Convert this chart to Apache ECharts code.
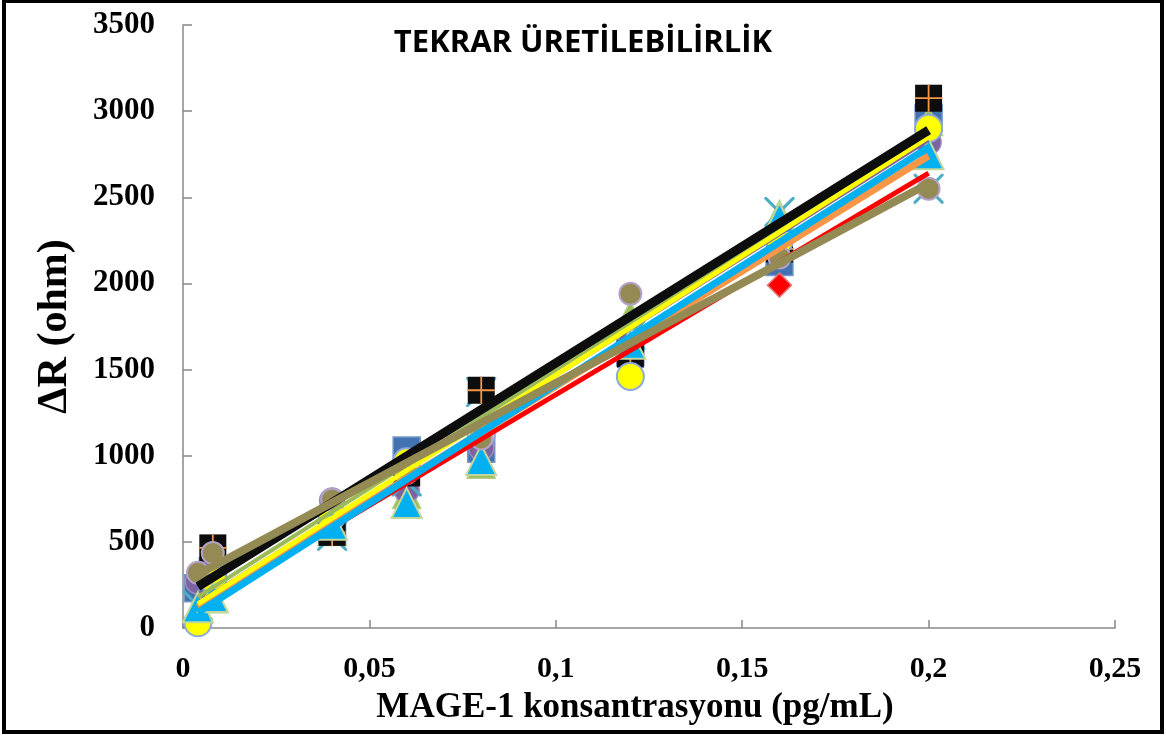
<!DOCTYPE html>
<html>
<head>
<meta charset="utf-8">
<script src="https://cdn.jsdelivr.net/npm/echarts@6/dist/echarts.min.js"></script>
<style>
html,body{margin:0;padding:0;background:#fff;}
#chart{width:1166px;height:737px;}
</style>
</head>
<body>
<div id="chart"></div>
<script>
// ---- data ----
const concentrations = [0.004, 0.008, 0.04, 0.06, 0.08, 0.12, 0.16, 0.2];
const seriesBlueSquare   = [230, 330, 560, 1030, 1040, 1600, 2125, 2960];
const seriesRedDiamond   = [70, 200, 600, 800, 1030, 1560, 1990, 2830];
const seriesGreenTri     = [110, 170, 560, 775, 950, 1815, 2400, 2940];
const seriesPurpleCircle = [270, 400, 740, 800, 1045, 1650, 2250, 2820];
const seriesCyanX        = [130, 300, 535, 850, 1370, 1700, 2415, 2550];
const seriesBlackPlus    = [null, 465, 555, 900, 1380, 1590, 2200, 3075];
const seriesYellowCircle = [30, 280, 650, 965, 1120, 1460, 2250, 2900];
const seriesCyanTri      = [120, 180, 600, 725, 975, 1650, 2380, 2750];
const seriesOliveCircle  = [320, 435, 745, 900, 1100, 1940, 2150, 2550];

// linear trendlines: value at first and last concentration
const trendX      = [0.004, 0.2];
const trendRed    = [120, 2640];
const trendOrange = [120, 2740];
const trendPurple = [150, 2830];
const trendGreen  = [180, 2870];
const trendYellow = [140, 2850];
const trendCyan   = [90, 2790];
const trendBlack  = [240, 2890];
const trendOlive  = [310, 2580];

const xTicks = [0, 0.05, 0.1, 0.15, 0.2, 0.25];
const yTicks = [0, 500, 1000, 1500, 2000, 2500, 3000, 3500];

const titleText = 'TEKRAR ÜRETİLEBİLİRLİK';
const xName = 'MAGE-1 konsantrasyonu (pg/mL)';
const yName = 'ΔR (ohm)';

// ---- build ----
const pts = vals => concentrations.map((x, i) => [x, vals[i] == null ? '-' : vals[i]]);
const trend = vals => trendX.map((x, i) => [x, vals[i]]);

const X_PATH = 'path://M0,0 L2.2,0 L15,12.8 L27.8,0 L30,0 L30,2.2 L17.2,15 L30,27.8 L30,30 L27.8,30 L15,17.2 L2.2,30 L0,30 L0,27.8 L12.8,15 L0,2.2 Z';
const PLUS_PATH = 'path://M14,0 L16,0 L16,14 L30,14 L30,16 L16,16 L16,30 L14,30 L14,16 L0,16 L0,14 L14,14 Z';

function scatter(name, data, symbol, size, fill, border, bw, z) {
  return {
    type: 'scatter', name, data: pts(data), symbol, symbolSize: size, z,
    itemStyle: { color: fill, borderColor: border, borderWidth: bw, opacity: 1 },
    emphasis: { disabled: true }, silent: true
  };
}
function tline(data, color, width, z) {
  return {
    type: 'line', data: trend(data), symbol: 'none', z,
    lineStyle: { color, width, cap: 'butt' }, silent: true
  };
}

const fmtX = v => String(+(+v).toFixed(3)).replace('.', ',');
const fmtY = v => String(Math.round(v));

const option = {
  animation: false,
  backgroundColor: '#ffffff',
  title: {
    text: titleText, left: 'center', top: 23,
    textStyle: { fontFamily: 'Open Sans', fontWeight: 'bold', fontSize: 31, color: '#000' }
  },
  grid: { left: 183, right: 51, top: 25, bottom: 109, containLabel: false },
  xAxis: {
    type: 'value', min: xTicks[0], max: xTicks[xTicks.length - 1], interval: xTicks[1] - xTicks[0],
    name: xName, nameLocation: 'middle', nameGap: 62,
    nameTextStyle: { fontFamily: 'Liberation Serif', fontWeight: 'bold', fontSize: 35, color: '#000', padding: [0, 28, 0, 0] },
    axisLine: { show: true, onZero: false, lineStyle: { color: '#888', width: 1.5 } },
    axisTick: { show: true, inside: true, length: 8, lineStyle: { color: '#888', width: 1.5 } },
    axisLabel: { formatter: fmtX, margin: 26, fontFamily: 'Liberation Serif', fontWeight: 'bold', fontSize: 30, color: '#000' },
    splitLine: { show: false }
  },
  yAxis: {
    type: 'value', min: yTicks[0], max: yTicks[yTicks.length - 1], interval: yTicks[1] - yTicks[0],
    name: yName, nameLocation: 'middle', nameGap: 107,
    nameTextStyle: { fontFamily: 'Liberation Serif', fontWeight: 'bold', fontSize: 42, color: '#000' },
    axisLine: { show: true, onZero: false, lineStyle: { color: '#888', width: 1.5 } },
    axisTick: { show: true, inside: true, length: 9, lineStyle: { color: '#888', width: 1.5 } },
    axisLabel: { formatter: fmtY, margin: 28, fontFamily: 'Liberation Serif', fontWeight: 'bold', fontSize: 31, color: '#000' },
    splitLine: { show: false }
  },
  graphic: [{
    type: 'rect', shape: { x: 4, y: 1, width: 1158, height: 731 },
    style: { fill: 'none', stroke: '#000', lineWidth: 4 }, z: 100, silent: true
  }],
  series: [
    scatter('blue', seriesBlueSquare, 'rect', 27, '#4272B0', '#7398C9', 1.5, 2),
    scatter('red', seriesRedDiamond, 'diamond', 24, '#FF0000', '#E57373', 1.5, 3),
    scatter('green', seriesGreenTri, 'triangle', 28, '#9BBB59', '#B5CC85', 1.5, 4),
    scatter('purple', seriesPurpleCircle, 'circle', 25, '#7B62A0', '#9E8BC0', 1.5, 5),
    scatter('cyanx', seriesCyanX, X_PATH, 30, '#4BACC6', '#4BACC6', 0, 6),
    scatter('black', seriesBlackPlus, 'rect', 27, '#0D0D0D', '#0D0D0D', 0, 7),
    scatter('blackplus', seriesBlackPlus, PLUS_PATH, 27, '#F79646', '#F79646', 0, 8),
    scatter('yellow', seriesYellowCircle, 'circle', 27, '#FFFF00', '#8EA9DB', 2, 9),
    scatter('cyantri', seriesCyanTri, 'triangle', 30, '#00B0F0', '#C3D69B', 2, 10),
    scatter('olive', seriesOliveCircle, 'circle', 22, '#948A54', '#B3A2C7', 2, 11),
    tline(trendRed, '#FF0000', 5, 20),
    tline(trendOrange, '#F79646', 7, 21),
    tline(trendPurple, '#8064A2', 3, 22),
    tline(trendGreen, '#9BBB59', 4, 23),
    tline(trendYellow, '#FFFF00', 5, 24),
    tline(trendCyan, '#00B0F0', 7, 25),
    tline(trendBlack, '#0D0D0D', 9, 26),
    tline(trendOlive, '#948A54', 8, 27)
  ]
};

const chart = echarts.init(document.getElementById('chart'), null, { renderer: 'canvas' });
chart.setOption(option);
</script>
</body>
</html>
